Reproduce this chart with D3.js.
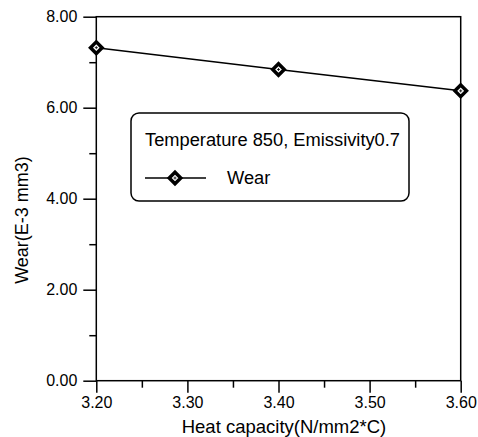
<!DOCTYPE html>
<html>
<head>
<meta charset="utf-8">
<script src="https://cdn.jsdelivr.net/npm/d3@7"></script>
<style>
  body { margin: 0; background: #fff; }
  svg text { font-family: Arial, "Liberation Sans", sans-serif; fill: #000; }
</style>
</head>
<body>
<div id="chart"></div>
<script>
const heatCapacity = [3.20, 3.40, 3.60];
const wear = [7.32, 6.84, 6.37];
const xTicks = [3.20, 3.30, 3.40, 3.50, 3.60];
const xMinor = [3.25, 3.35, 3.45, 3.55];
const yTicks = [0, 2, 4, 6, 8];
const yMinor = [1, 3, 5, 7];
const legendTitle = 'Temperature 850, Emissivity0.7';
const seriesName = 'Wear';

const width = 478, height = 437;
const margin = { top: 16.7, right: 17.3, bottom: 56.3, left: 96.3 };

const svg = d3.select('#chart').append('svg')
    .attr('width', width)
    .attr('height', height);

const x = d3.scaleLinear().domain([3.2, 3.6])
    .range([margin.left, width - margin.right]);
const y = d3.scaleLinear().domain([0, 8])
    .range([height - margin.bottom, margin.top]);

// frame
svg.append('rect')
    .attr('x', x(3.2)).attr('y', y(8))
    .attr('width', x(3.6) - x(3.2)).attr('height', y(0) - y(8))
    .attr('fill', 'none').attr('stroke', '#000').attr('stroke-width', 1.5);

// x axis
svg.append('g')
    .attr('transform', `translate(0,${y(0)})`)
    .call(d3.axisBottom(x).tickValues(xTicks).tickSize(12).tickPadding(4)
        .tickFormat(d3.format('.2f')));
svg.append('g')
    .attr('transform', `translate(0,${y(0)})`)
    .call(d3.axisBottom(x).tickValues(xMinor).tickSize(7).tickFormat(''));

// y axis
svg.append('g')
    .attr('transform', `translate(${x(3.2)},0)`)
    .call(d3.axisLeft(y).tickValues(yTicks).tickSize(13).tickPadding(6)
        .tickFormat(d3.format('.2f')));
svg.append('g')
    .attr('transform', `translate(${x(3.2)},0)`)
    .call(d3.axisLeft(y).tickValues(yMinor).tickSize(7).tickFormat(''));

svg.selectAll('.domain').remove();
svg.selectAll('.tick line').attr('stroke', '#000').attr('stroke-width', 1.5);
svg.selectAll('.tick text').attr('font-size', 16).attr('font-family', null);

// axis titles
svg.append('text')
    .attr('x', 284).attr('y', 433)
    .attr('text-anchor', 'middle')
    .attr('font-size', 18.5)
    .text('Heat capacity(N/mm2*C)');

svg.append('text')
    .attr('transform', 'translate(28,220) rotate(-90)')
    .attr('text-anchor', 'middle')
    .attr('font-size', 18)
    .text('Wear(E-3 mm3)');

// data line
const pts = heatCapacity.map((d, i) => [d, wear[i]]);
svg.append('path')
    .datum(pts)
    .attr('fill', 'none').attr('stroke', '#000').attr('stroke-width', 1.5)
    .attr('d', d3.line().x(d => x(d[0])).y(d => y(d[1])));

const diamond = d3.symbol().type(d3.symbolDiamond2).size(85);
function marker(g) {
    g.append('path').attr('d', diamond)
        .attr('fill', '#fff').attr('stroke', '#000').attr('stroke-width', 3.5);
    g.append('path').attr('d', 'M-1.5,0H1.5M0,-1.5V1.5')
        .attr('stroke', '#000').attr('stroke-width', 0.8);
}
svg.append('g').selectAll('g')
    .data(pts)
    .enter().append('g')
    .attr('transform', d => `translate(${x(d[0])},${y(d[1])})`)
    .each(function() { marker(d3.select(this)); });

// legend
const lg = svg.append('g');
lg.append('rect')
    .attr('x', 131).attr('y', 113).attr('width', 278).attr('height', 88)
    .attr('rx', 8).attr('fill', '#fff').attr('stroke', '#000').attr('stroke-width', 1.5);
lg.append('text')
    .attr('x', 145).attr('y', 146).attr('font-size', 18.3)
    .text(legendTitle);
lg.append('line')
    .attr('x1', 145).attr('x2', 206).attr('y1', 178).attr('y2', 178)
    .attr('stroke', '#000').attr('stroke-width', 1.5);
lg.append('g').attr('transform', 'translate(175,178)').call(marker);
lg.append('text')
    .attr('x', 227).attr('y', 184).attr('font-size', 18.3)
    .text(seriesName);
</script>
</body>
</html>
